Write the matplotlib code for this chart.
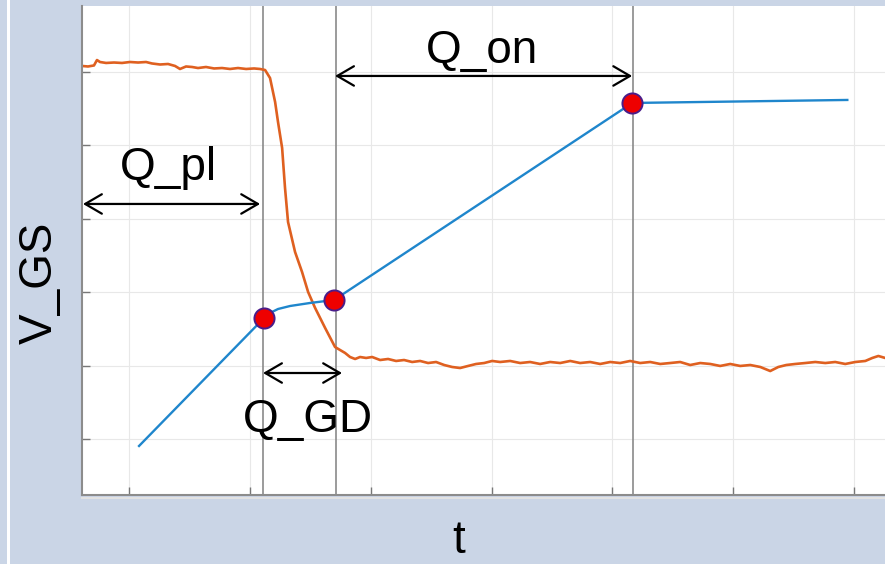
import numpy as np
import matplotlib
matplotlib.use("Agg")
import matplotlib.pyplot as plt
from matplotlib.lines import Line2D
from matplotlib.patches import Rectangle

plt.rcParams['font.family'] = ['Liberation Sans', 'DejaVu Sans']

# V_GS trace (blue) and the three charge points
t_gs = [10.83, 21.18, 21.67, 22.33, 23.33, 24.98, 26.97, 51.64, 69.44]
v_gs = [0.905, 2.649, 2.717, 2.771, 2.812, 2.853, 2.894, 5.578, 5.619]
t_pts = [21.18, 26.97, 51.64]
v_pts = [2.649, 2.894, 5.578]

# V_DS trace (orange)
t_ds = [6.11, 6.61, 7.10, 7.35, 7.60, 8.10, 8.76, 9.42, 10.08, 10.75, 11.41, 11.90,
        12.57, 13.23, 13.81, 14.22, 14.72, 15.22, 15.71, 16.37, 17.04, 17.70, 18.36,
        19.02, 19.69, 20.35, 20.84, 21.26, 21.67, 22.09, 22.33, 22.67, 22.91, 23.16,
        23.74, 24.32, 24.82, 25.40, 26.23, 27.05, 27.47, 27.88, 28.29, 28.71,
        29.12, 29.62, 30.12, 30.78, 31.44, 32.10, 32.76, 33.43, 34.09, 34.75, 35.41,
        36.08, 36.74, 37.40, 38.06, 38.72, 39.39, 40.05, 40.71, 41.54, 42.37, 43.19,
        44.02, 44.85, 45.68, 46.51, 47.33, 48.16, 48.99, 49.82, 50.64, 51.47, 52.30,
        53.13, 53.96, 54.78, 55.61, 56.44, 57.27, 58.10, 58.92, 59.75, 60.58, 61.41,
        62.24, 63.06, 63.73, 64.39, 65.13, 65.96, 66.79, 67.62, 68.44, 69.27, 70.10,
        70.93, 71.51, 72.01, 72.57]
v_ds = [6.082, 6.075, 6.089, 6.163, 6.136, 6.123, 6.129, 6.123, 6.136, 6.129, 6.136, 6.116,
        6.102, 6.109, 6.082, 6.041, 6.075, 6.068, 6.054, 6.068, 6.048, 6.054, 6.041,
        6.054, 6.041, 6.048, 6.041, 6.027, 5.918, 5.591, 5.319, 4.965, 4.420, 3.956,
        3.548, 3.275, 3.003, 2.785, 2.512, 2.253, 2.212, 2.172, 2.117, 2.090,
        2.117, 2.104, 2.117, 2.076, 2.090, 2.063, 2.076, 2.049, 2.063, 2.035, 2.049,
        2.008, 1.981, 1.967, 1.995, 2.022, 2.035, 2.063, 2.049, 2.063, 2.035, 2.049,
        2.022, 2.049, 2.035, 2.063, 2.035, 2.049, 2.022, 2.049, 2.035, 2.063, 2.035,
        2.049, 2.022, 2.035, 2.049, 2.008, 2.035, 2.022, 1.995, 2.022, 1.995, 2.008,
        1.981, 1.926, 1.981, 2.008, 2.022, 2.035, 2.049, 2.035, 2.049, 2.022, 2.049,
        2.063, 2.104, 2.131, 2.104]

# charge intervals: (start, end, level, label, label_t, label_v)
t_marks = [21.09, 27.14, 51.72]
spans = [
    (6.19, 20.85, 4.202, "Q_pl", 13.23, 4.529),
    (27.05, 51.64, 5.946, "Q_on", 39.22, 6.123),
    (21.09, 27.63, 1.899, "Q_GD", 24.82, 1.095),
]

bg = '#cad5e6'
fig = plt.figure(figsize=(8.85, 5.64), dpi=100, facecolor=bg)
ax = fig.add_axes([82/885, 1-495/564, 818/885, 489/564])
ax.set_facecolor('white')
fig.patches.append(Rectangle((7/885, 0), 2.5/885, 1, transform=fig.transFigure,
                             facecolor='white', edgecolor='none'))

ax.set_xlim(6.11, 73.8)
ax.set_ylim(0.237, 6.899)
ax.set_xticks([10, 20, 30, 40, 50, 60, 70])
ax.set_yticks([1, 2, 3, 4, 5, 6])
ax.set_xticklabels([])
ax.set_yticklabels([])
ax.grid(True, color='#e8e8e8', lw=0.8)
ax.set_axisbelow(True)
ax.tick_params(direction='in', length=6, width=1, color='#777777')
for s in ['top', 'right']:
    ax.spines[s].set_visible(False)
for s in ['left', 'bottom']:
    ax.spines[s].set_color('#8c8c8c')
    ax.spines[s].set_linewidth(1.5)
fig.lines.append(Line2D([82/885, 1], [1-497.5/564]*2, transform=fig.transFigure,
                        color='#e2e2e2', lw=1.5))

for tm in t_marks:
    ax.axvline(tm, color='#8a8a8a', lw=1.2, zorder=1.5)

ax.plot(t_ds, v_ds, color='#df6020', lw=1.9, zorder=2)
ax.plot(t_gs, v_gs, color='#1f86cc', lw=1.7, zorder=3)
ax.plot(t_pts, v_pts, 'o', ms=14.5, color='#ee0000', mec='#4a1d8a', mew=1.4, zorder=4)

for t0, t1, lev, lab, lt, lv in spans:
    ax.annotate('', xy=(t1, lev), xytext=(t0, lev),
                arrowprops=dict(arrowstyle='<->,head_length=1.2,head_width=0.7',
                                lw=1.6, color='black', shrinkA=0, shrinkB=0))
    ax.text(lt, lv, lab, fontsize=33, ha='center', va='baseline', color='black')

fig.text(40/885, 1-283/564, "V_GS", fontsize=33, rotation=90, ha='center', va='center')
fig.text(459/885, 1-541/564, "t", fontsize=33, ha='center', va='center')

fig.savefig("out.png", dpi=100, facecolor=bg)
